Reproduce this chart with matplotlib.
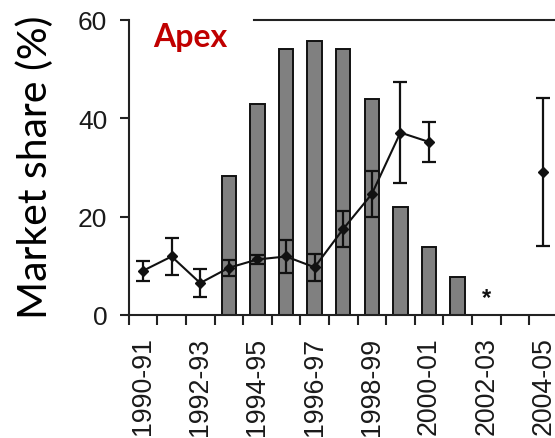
import numpy as np
import matplotlib
matplotlib.use("Agg")
import matplotlib.pyplot as plt

# Données
seasons = ["1990-91", "1991-92", "1992-93", "1993-94", "1994-95", "1995-96",
           "1996-97", "1997-98", "1998-99", "1999-00", "2000-01", "2001-02",
           "2002-03", "2003-04", "2004-05"]
bar_share = [np.nan, np.nan, np.nan, 28.3, 43.0, 54.1, 55.8, 54.1, 44.0,
             21.9, 13.9, 7.7, np.nan, np.nan, np.nan]
line_share = [9.0, 11.9, 6.5, 9.6, 11.3, 11.9, 9.7, 17.5, 24.6, 37.1, 35.2,
              np.nan, np.nan, np.nan, 29.1]
line_err = [2.0, 3.8, 2.9, 1.6, 0.9, 3.3, 2.7, 3.7, 4.6, 10.3, 4.0,
            np.nan, np.nan, np.nan, 15.1]
asterisk_idx = 12
asterisk_y = 3.5

x = np.arange(len(seasons))

fig = plt.figure(figsize=(5.55, 4.39), dpi=100)
ax = fig.add_axes([128.7 / 555, 123 / 439, 1 - 128.7 / 555, 295 / 439])

ax.bar(x, bar_share, width=0.51, color="#808080", edgecolor="#111111",
       linewidth=1.4, zorder=2)
ax.errorbar(x, line_share, yerr=line_err, color="#111111", linewidth=1.5,
            marker="D", markersize=5, elinewidth=1.6, capsize=4.8,
            capthick=1.6, zorder=3)
ax.text(asterisk_idx, asterisk_y, "*", ha="center", va="center",
        fontsize=17, fontweight="bold", color="#111111",
        family="Liberation Sans")

ax.set_ylim(0, 60)
ax.set_xlim(-0.5, -0.5 + (555 - 128.7) / 28.6)
ax.set_yticks([0, 20, 40, 60])
ax.set_yticklabels(["0", "20", "40", "60"], family="Liberation Sans",
                   fontsize=19, color="#1a1a1a")

# graduations aux limites de saison, étiquettes une saison sur deux
ax.set_xticks(x - 0.5)
ax.set_xticklabels([])
ax.set_xticks(x[::2], [seasons[i] for i in x[::2]], minor=True)
for lab in ax.get_xticklabels(minor=True):
    lab.set_rotation(90)
    lab.set_family("Liberation Sans")
    lab.set_fontsize(19.3)
    lab.set_color("#1a1a1a")
ax.tick_params(axis="x", which="major", direction="out", length=7,
               width=1.5, color="#222222")
ax.tick_params(axis="x", which="minor", length=0, pad=15.5)
ax.tick_params(axis="y", direction="out", length=6.5, width=1.5,
               color="#222222", pad=9)

ax.spines["right"].set_visible(False)
for side in ("left", "bottom", "top"):
    ax.spines[side].set_linewidth(1.5)
    ax.spines[side].set_color("#222222")
# le haut du cadre est masqué par l'étiquette
ax.spines["top"].set_bounds(-0.5 + (254 - 128.7) / 28.6, 20)

fig.text(153 / 555, 1 - 47 / 439, "Apex", color="#C00000", fontsize=23,
         fontweight="bold", family="Lato")
fig.text(35 / 555, 1 - 167 / 439, "Market share (%)", rotation=90,
         ha="center", va="center", fontsize=29.5, family="Lato",
         color="black")

fig.savefig("out.png", dpi=100)
